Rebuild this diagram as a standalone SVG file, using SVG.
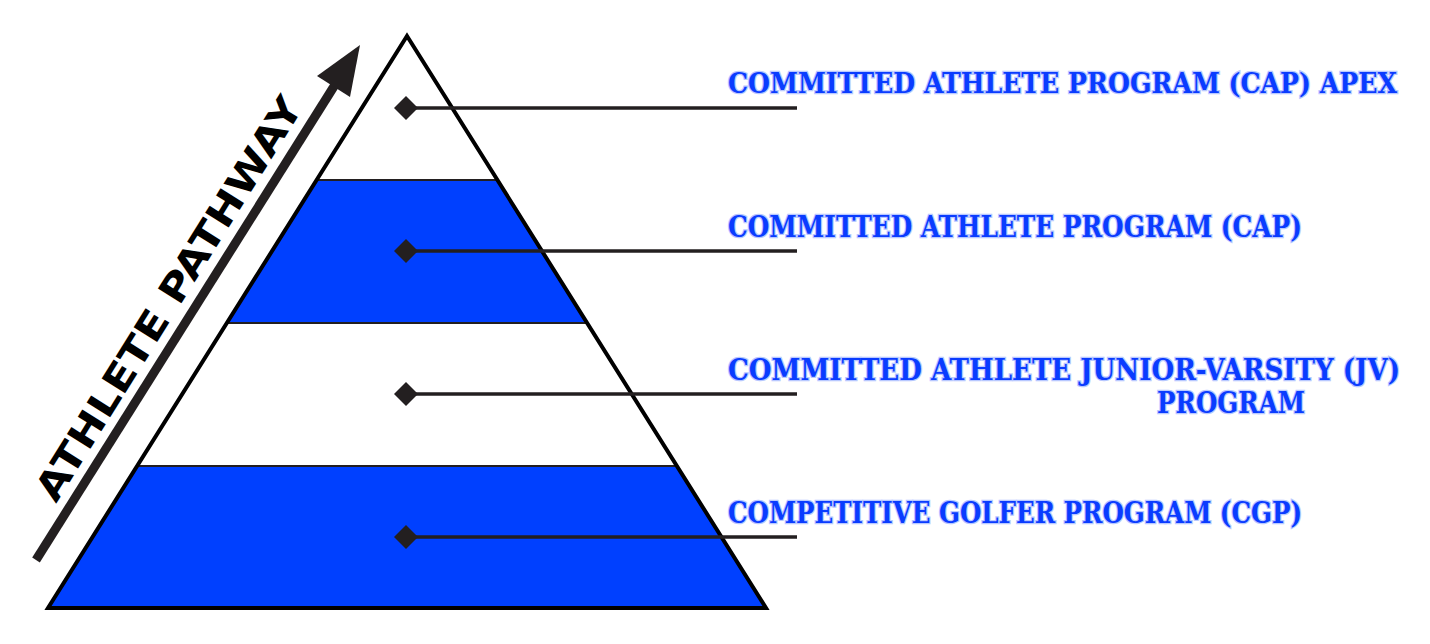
<svg xmlns="http://www.w3.org/2000/svg" width="1430" height="644" viewBox="0 0 1430 644">
<style>
.band-blue{fill:#0040ff}
.band-white{fill:#ffffff}
.sep{stroke:#231f20;stroke-width:2}
.outline{fill:none;stroke:#000;stroke-width:4;stroke-linejoin:miter}
.conn{stroke:#231f20;stroke-width:3.5;fill:none}
.dot{fill:#231f20}
.lbl{font-family:"DejaVu Serif","Liberation Serif",serif;font-stretch:condensed;font-weight:bold;font-size:30px;fill:#0a3cff;stroke:#b8c8ff;stroke-width:2.5;paint-order:stroke}
.lbl-sm{font-size:28px}
.path-lbl{font-family:"DejaVu Sans","Liberation Sans",sans-serif;font-weight:bold;font-size:38px;fill:#000}
</style>
<rect width="1430" height="644" fill="#ffffff"/>
<g id="pyramid">
  <polygon class="band-white" points="407,36 317,180 497,180"/>
  <polygon class="band-blue" points="317,180 497,180 587,323 227,323"/>
  <polygon class="band-white" points="227,323 587,323 676,466 138,466"/>
  <polygon class="band-blue" points="138,466 676,466 766,608 48,608"/>
  <line class="sep" x1="317" y1="180" x2="497" y2="180"/>
  <line class="sep" x1="227" y1="323" x2="587" y2="323"/>
  <line class="sep" x1="138" y1="466" x2="676" y2="466"/>
  <polygon class="outline" points="407,36 766,608 48,608"/>
</g>
<g id="connectors">
  <line class="conn" x1="406" y1="108" x2="797" y2="108"/>
  <line class="conn" x1="406" y1="251" x2="797" y2="251"/>
  <line class="conn" x1="406" y1="394" x2="797" y2="394"/>
  <line class="conn" x1="406" y1="537" x2="797" y2="537"/>
  <polygon class="dot" points="406,96 418,108 406,120 394,108"/>
  <polygon class="dot" points="406,239 418,251 406,263 394,251"/>
  <polygon class="dot" points="406,382 418,394 406,406 394,394"/>
  <polygon class="dot" points="406,525 418,537 406,549 394,537"/>
</g>
<g id="node-apex">
  <text class="lbl lbl-sm" x="728" y="93" textLength="669" lengthAdjust="spacingAndGlyphs">COMMITTED ATHLETE PROGRAM (CAP) APEX</text>
</g>
<g id="node-cap">
  <text class="lbl" x="728" y="237" textLength="574" lengthAdjust="spacingAndGlyphs">COMMITTED ATHLETE PROGRAM (CAP)</text>
</g>
<g id="node-jv">
  <text class="lbl" x="728" y="380" textLength="672" lengthAdjust="spacingAndGlyphs">COMMITTED ATHLETE JUNIOR-VARSITY (JV)</text>
  <text class="lbl" x="1157" y="413" textLength="148" lengthAdjust="spacingAndGlyphs">PROGRAM</text>
</g>
<g id="node-cgp">
  <text class="lbl" x="728" y="523" textLength="574" lengthAdjust="spacingAndGlyphs">COMPETITIVE GOLFER PROGRAM (CGP)</text>
</g>
<g id="pathway">
  <line x1="36" y1="560" x2="338" y2="80" stroke="#231f20" stroke-width="9"/>
  <polygon points="360,45 350,97 317,76" fill="#231f20"/>
  <text class="path-lbl" transform="translate(56,504) rotate(-58)" x="0" y="0" textLength="468" lengthAdjust="spacingAndGlyphs">ATHLETE PATHWAY</text>
</g>
</svg>
